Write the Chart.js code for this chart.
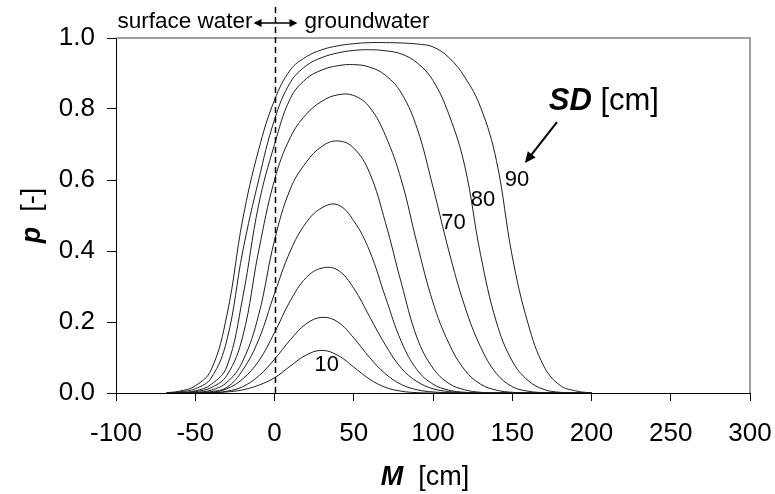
<!DOCTYPE html>
<html>
<head>
<meta charset="utf-8">
<script src="https://cdn.jsdelivr.net/npm/chart.js@4.4.1/dist/chart.umd.min.js"></script>
<style>
html,body{margin:0;padding:0;background:#fff;}
#wrap{width:775px;height:494px;}
</style>
</head>
<body>
<div id="wrap"><canvas id="chart" width="775" height="494"></canvas></div>
<script>
/* ---------- DATA ---------- */
const mValues = [-68,-60,-50,-40,-30,-20,-10,0,10,20,30,40,50,60,70,80,90,100,110,120,130,140,150,160,170,180,190,200];
const sd10 = [0,0,0,0.001,0.003,0.009,0.022,0.043,0.076,0.107,0.12,0.106,0.073,0.039,0.016,0.005,0.001,0,0,0,0,0,0,0,0,0,0,0];
const sd20 = [0,0,0,0.001,0.005,0.018,0.048,0.095,0.15,0.195,0.213,0.2,0.155,0.1,0.054,0.024,0.009,0.003,0.001,0,0,0,0,0,0,0,0,0];
const sd30 = [0,0,0.001,0.002,0.012,0.04,0.09,0.17,0.26,0.325,0.352,0.346,0.295,0.215,0.135,0.07,0.032,0.012,0.004,0.001,0,0,0,0,0,0,0,0];
const sd40 = [0,0,0.001,0.004,0.016,0.065,0.15,0.28,0.40,0.48,0.522,0.53,0.485,0.40,0.27,0.145,0.065,0.025,0.008,0.002,0,0,0,0,0,0,0,0];
const sd50 = [0,0,0.002,0.008,0.03,0.09,0.22,0.43,0.575,0.65,0.695,0.71,0.69,0.62,0.48,0.31,0.155,0.07,0.027,0.009,0.002,0,0,0,0,0,0,0];
const sd60 = [0,0.001,0.004,0.015,0.05,0.16,0.40,0.60,0.72,0.785,0.822,0.84,0.838,0.805,0.725,0.60,0.42,0.255,0.14,0.065,0.025,0.008,0.002,0,0,0,0,0];
const sd70 = [0,0.001,0.006,0.024,0.075,0.27,0.53,0.70,0.83,0.885,0.91,0.922,0.925,0.918,0.895,0.845,0.745,0.58,0.40,0.245,0.13,0.055,0.018,0.005,0.001,0,0,0];
const sd80 = [0,0.003,0.012,0.042,0.15,0.40,0.60,0.77,0.875,0.922,0.945,0.958,0.965,0.967,0.964,0.955,0.93,0.88,0.785,0.64,0.39,0.20,0.09,0.035,0.01,0.002,0,0];
const sd90 = [0.001,0.005,0.02,0.065,0.22,0.49,0.685,0.825,0.91,0.947,0.967,0.978,0.984,0.987,0.987,0.986,0.983,0.975,0.945,0.89,0.805,0.655,0.385,0.195,0.075,0.022,0.006,0];
const seriesNames = ['10','20','30','40','50','60','70','80','90'];
const series = [sd10,sd20,sd30,sd40,sd50,sd60,sd70,sd80,sd90];

const xRange = [-100,300], xStep = 50;
const yRange = [0,1], yStep = 0.2;

// curve labels: [text, M, p]
const curveLabels = [['10',33,0.079],['70',113,0.479],['80',131.5,0.544],['90',153,0.60]];
const sdLabelAt = [173,0.797];
const sdArrow = [[178.2,0.763],[158,0.648]];

/* ---------- HELPERS ---------- */
const FONT = "'Liberation Sans', Arial, sans-serif";
const $ = id => document.getElementById(id);

function arrowHead(g,x1,y1,x2,y2,len,w){
  const ang=Math.atan2(y2-y1,x2-x1);
  g.beginPath();
  g.moveTo(x2,y2);
  g.lineTo(x2-len*Math.cos(ang)+w*Math.sin(ang), y2-len*Math.sin(ang)-w*Math.cos(ang));
  g.lineTo(x2-len*Math.cos(ang)-w*Math.sin(ang), y2-len*Math.sin(ang)+w*Math.cos(ang));
  g.closePath(); g.fill();
}

const richWidth = (g,parts) => parts.reduce((s,[t,f])=>{g.font=f;return s+g.measureText(t).width;},0);
function rich(g,parts,x,y){
  let cx=x;
  parts.forEach(([t,f])=>{g.font=f;g.fillText(t,cx,y);cx+=g.measureText(t).width;});
}

/* ---------- DECORATION PLUGIN ---------- */
const decor = {
  id:'decor',
  beforeDraw(c){const g=c.ctx;g.save();g.fillStyle='#fff';g.fillRect(0,0,c.width,c.height);g.restore();},
  afterDraw(c){
    const g=c.ctx, a=c.chartArea, xs=c.scales.x, ys=c.scales.y;
    g.save();
    // frame top/right
    g.strokeStyle='#808080'; g.lineWidth=1.5;
    g.beginPath(); g.moveTo(a.left,a.top); g.lineTo(a.right,a.top); g.lineTo(a.right,a.bottom); g.stroke();

    // dashed divider at M = 0
    const x0=Math.round(xs.getPixelForValue(0))+0.5;
    g.strokeStyle='#000'; g.lineWidth=1.5; g.setLineDash([6,4]);
    g.beginPath(); g.moveTo(x0,a.top-31); g.lineTo(x0,a.bottom); g.stroke();
    g.setLineDash([]);

    // double arrow + captions
    const ay=a.top-15;
    g.fillStyle='#000'; g.lineWidth=1.5;
    g.beginPath(); g.moveTo(x0-20,ay); g.lineTo(x0+20,ay); g.stroke();
    arrowHead(g,x0,ay,x0-22,ay,8,4);
    arrowHead(g,x0,ay,x0+22,ay,8,4);
    g.font=`22.5px ${FONT}`; g.textBaseline='alphabetic';
    g.textAlign='right'; g.fillText('surface water',x0-23,a.top-10);
    g.textAlign='left';  g.fillText('groundwater',x0+29,a.top-10);

    // curve labels
    g.font=`22px ${FONT}`; g.textAlign='center'; g.textBaseline='middle';
    curveLabels.forEach(([t,m,p])=>g.fillText(t,xs.getPixelForValue(m),ys.getPixelForValue(p)));

    // SD [cm] + arrow
    g.textAlign='left'; g.textBaseline='alphabetic';
    rich(g,[['SD',`italic bold 31px ${FONT}`],[' [cm]',`31px ${FONT}`]],
         xs.getPixelForValue(sdLabelAt[0]),ys.getPixelForValue(sdLabelAt[1]));
    const [s,e]=sdArrow;
    const sx=xs.getPixelForValue(s[0]), sy=ys.getPixelForValue(s[1]);
    const ex=xs.getPixelForValue(e[0]), ey=ys.getPixelForValue(e[1]);
    g.lineWidth=2;
    g.beginPath(); g.moveTo(sx,sy); g.lineTo(ex+(sx-ex)*0.2,ey+(sy-ey)*0.2); g.stroke();
    arrowHead(g,sx,sy,ex,ey,11,5);

    // axis titles
    const xt=[['M',`italic bold 27px ${FONT}`],['  [cm]',`27px ${FONT}`]];
    rich(g,xt,(a.left+a.right)/2-richWidth(g,xt)/2-8,a.bottom+92);
    const yt=[['p',`italic bold 27px ${FONT}`],['  [-]',`27px ${FONT}`]];
    g.translate(40,(a.top+a.bottom)/2);
    g.rotate(-Math.PI/2);
    rich(g,yt,-richWidth(g,yt)/2,0);
    g.restore();
  }
};

/* ---------- CHART ---------- */
const tickFont = {family:FONT,size:26};
new Chart($('chart'),{
  type:'line',
  data:{
    datasets:series.map((s,i)=>({
      label:seriesNames[i],
      data:mValues.map((m,j)=>({x:m,y:s[j]})),
      borderColor:'#1e1e1e',borderWidth:1,pointRadius:0,
      tension:0.4,fill:false
    }))
  },
  options:{
    responsive:false,animation:false,devicePixelRatio:1,
    layout:{padding:{top:38,right:25,left:0,bottom:0}},
    plugins:{legend:{display:false},tooltip:{enabled:false}},
    scales:{
      x:{
        type:'linear',min:xRange[0],max:xRange[1],
        ticks:{stepSize:xStep,font:tickFont,color:'#000',padding:17,maxRotation:0},
        grid:{drawOnChartArea:false,tickLength:8,color:'#000'},
        border:{color:'#000',width:1},
        afterFit:s=>{s.height=101;s.paddingRight=0;s.paddingLeft=0;}
      },
      y:{
        min:yRange[0],max:yRange[1],
        ticks:{stepSize:yStep,font:tickFont,color:'#000',padding:12,callback:v=>v.toFixed(1)},
        grid:{drawOnChartArea:false,tickLength:9,color:'#000'},
        border:{color:'#000',width:1},
        afterFit:s=>{s.width=116;s.paddingTop=0;s.paddingBottom=0;}
      }
    }
  },
  plugins:[decor]
});
</script>
</body>
</html>
